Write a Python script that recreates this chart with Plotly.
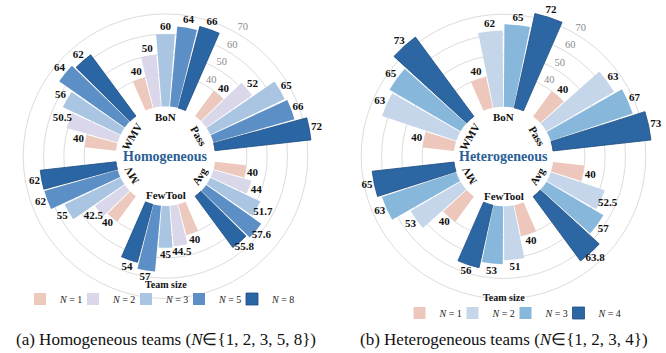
import math
import plotly.graph_objects as go

# ---------------- data ----------------
categories = ["BoN", "Pass", "Avg", "FewTool", "MV", "WMV"]

homo_sizes = ["1", "2", "3", "5", "8"]
homo_n1 = [40, 40, 40, 40, 40, 40]
homo_n2 = [50, 52, 44, 44.5, 42.5, 50.5]
homo_n3 = [60, 65, 51.7, 45, 55, 56]
homo_n5 = [64, 66, 57.6, 57, 62, 64]
homo_n8 = [66, 72, 55.8, 54, 62, 62]

hetero_sizes = ["1", "2", "3", "4"]
hetero_n1 = [40, 40, 40, 40, 40, 40]
hetero_n2 = [62, 63, 52.5, 51, 53, 63]
hetero_n3 = [65, 67, 57, 53, 63, 65]
hetero_n4 = [72, 73, 63.8, 56, 65, 73]

radial_ticks = [40, 50, 60, 70]

homo_colors = ["#ECC8BD", "#D9D7E9", "#A9C5E2", "#5C8FC5", "#2B66A4"]
hetero_colors = ["#EDC7BB", "#C6D6EA", "#87B7DB", "#2C67A4"]

# ---------------- style / geometry ----------------
W, H = 666, 353
FONT = "Liberation Serif"
PX_PER_UNIT = 2.033
R_MAX = 76.7          # radial range max
R_PX = PX_PER_UNIT * R_MAX   # outer radius in px
BAR_BASE = 24.5       # radial value at which the bars start (inner hole)
GROUP_SPAN = 48.0     # degrees occupied by one category group
LABEL_OFF = 3.6       # radial offset of value labels
CAT_R = 19.3          # radial position of category labels (units)
cat_textangles = [0, 60, -60, 0, -120, -60]

centers = [(165.5, 156.2), (503.5, 156.5)]
legend_rows = [299, 313]      # y (px) of legend rows
legend_x = [179, 532]         # x (px) of legend boxes' centres (incl. spacer entry)
legend_titles_y = [284, 297]  # y (px) of "Team size"


def domain(cx, cy):
    return dict(x=[(cx - R_PX) / W, (cx + R_PX) / W],
                y=[max(0, (H - cy - R_PX) / H), min(1, (H - cy + R_PX) / H)])


fig = go.Figure()


def add_panel(series, sizes, colors, polar_id, legend_id):
    n = len(series)
    slot = GROUP_SPAN / n
    for i, (vals, size, col) in enumerate(zip(series, sizes, colors)):
        thetas = [60 * g + (i - (n - 1) / 2) * slot for g in range(len(categories))]
        last = i == n - 1
        fig.add_trace(go.Barpolar(
            r=[v - BAR_BASE for v in vals], base=BAR_BASE, theta=thetas,
            width=slot - 0.8, name=f"<i>N</i> = {size}",
            marker=dict(color=col,
                        line=dict(color="#1E4D80" if last else col, width=0.8 if last else 0)),
            subplot=polar_id, legend=legend_id, hoverinfo="skip"))
        fig.add_trace(go.Scatterpolar(
            r=[v + LABEL_OFF for v in vals], theta=thetas, mode="text",
            text=[f"<b>{v:g}</b>" for v in vals],
            textfont=dict(family=FONT, size=11, color="#111111"),
            subplot=polar_id, showlegend=False, cliponaxis=False, hoverinfo="skip"))
    # invisible spacer so that the last legend label is not clipped
    fig.add_trace(go.Barpolar(
        r=[0], theta=[0], base=BAR_BASE, name=" ",
        marker=dict(color="rgba(0,0,0,0)", line=dict(width=0)),
        subplot=polar_id, legend=legend_id, hoverinfo="skip"))
    # radial tick labels
    fig.add_trace(go.Scatterpolar(
        r=[t + 3.7 for t in radial_ticks], theta=[31] * len(radial_ticks), mode="text",
        text=[str(t) for t in radial_ticks],
        textfont=dict(family=FONT, size=10.5, color="#8a8a8a"),
        subplot=polar_id, showlegend=False, cliponaxis=False, hoverinfo="skip"))


add_panel([homo_n1, homo_n2, homo_n3, homo_n5, homo_n8], homo_sizes, homo_colors, "polar", "legend")
add_panel([hetero_n1, hetero_n2, hetero_n3, hetero_n4], hetero_sizes, hetero_colors, "polar2", "legend2")

polar_style = dict(
    bgcolor="white",
    angularaxis=dict(rotation=90, direction="clockwise", showgrid=False, showline=False,
                     showticklabels=False, ticks=""),
    radialaxis=dict(range=[0, R_MAX], tickvals=radial_ticks, showticklabels=False,
                    showline=False, ticks="", gridcolor="#dcdcdc", gridwidth=1),
)

annotations = []
titles = ["Homogeneous", "Heterogeneous"]
for (cx, cy), title, ty in zip(centers, titles, legend_titles_y):
    annotations.append(dict(x=cx / W, y=(H - cy) / H, xref="paper", yref="paper",
                            text=f"<b>{title}</b>", showarrow=False,
                            font=dict(family=FONT, size=14, color="#2C5F96"),
                            xanchor="center", yanchor="middle"))
    annotations.append(dict(x=cx / W, y=(H - ty) / H, xref="paper", yref="paper",
                            text="<b>Team size</b>", showarrow=False,
                            font=dict(family=FONT, size=10, color="#111111"),
                            xanchor="center", yanchor="middle"))
    for g, (cat, ang) in enumerate(zip(categories, cat_textangles)):
        th = math.radians(60 * g)
        rpx = CAT_R * PX_PER_UNIT
        annotations.append(dict(x=(cx + rpx * math.sin(th)) / W,
                                y=(H - cy + rpx * math.cos(th)) / H,
                                xref="paper", yref="paper", text=f"<b>{cat}</b>",
                                showarrow=False, textangle=ang,
                                font=dict(family=FONT, size=11, color="#111111"),
                                xanchor="center", yanchor="middle"))

captions = ["(a) Homogeneous teams (<i>N</i>∈{1, 2, 3, 5, 8})",
            "(b) Heterogeneous teams (<i>N</i>∈{1, 2, 3, 4})"]
for (cx, cy), cap in zip(centers, captions):
    annotations.append(dict(x=cx / W, y=(H - 339) / H, xref="paper", yref="paper",
                            text=cap, showarrow=False,
                            font=dict(family=FONT, size=17, color="#111111"),
                            xanchor="center", yanchor="middle"))

legend_common = dict(orientation="h", xanchor="center", yanchor="middle",
                     bgcolor="rgba(0,0,0,0)", font=dict(family=FONT, size=10, color="#222222"),
                     itemwidth=30, entrywidthmode="pixels", entrywidth=8)

fig.update_layout(
    width=W, height=H, margin=dict(l=0, r=0, t=0, b=0),
    paper_bgcolor="white", plot_bgcolor="white",
    font=dict(family=FONT),
    polar=dict(domain=domain(*centers[0]), **polar_style),
    polar2=dict(domain=domain(*centers[1]), **polar_style),
    legend=dict(x=legend_x[0] / W, y=(H - legend_rows[0]) / H, **legend_common),
    legend2=dict(x=legend_x[1] / W, y=(H - legend_rows[1]) / H, **legend_common),
    annotations=annotations,
    showlegend=True,
)

fig.write_html("out.html")
